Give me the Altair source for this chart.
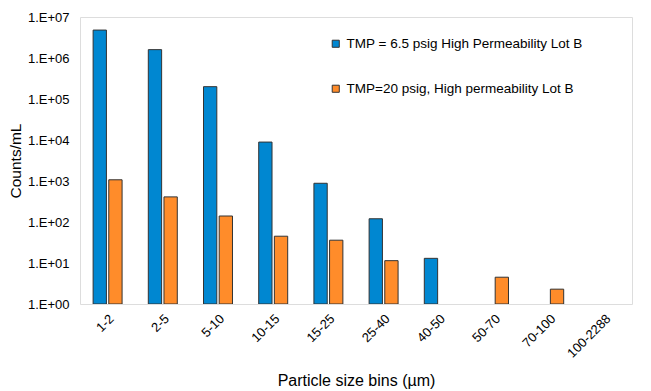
import altair as alt
import pandas as pd

bins = ["1-2", "2-5", "5-10", "10-15", "15-25", "25-40", "40-50", "50-70", "70-100", "100-2288"]
series_a = "TMP = 6.5 psig High Permeability Lot B"
series_b = "TMP=20 psig, High permeability Lot B"
values_a = [4.8e6, 1.6e6, 2.0e5, 8.9e3, 8.8e2, 1.2e2, 13, None, None, None]
values_b = [1.07e3, 4.1e2, 1.4e2, 45, 36, 11.4, None, 4.5, 2.3, None]
y_ticks = [1, 10, 100, 1e3, 1e4, 1e5, 1e6, 1e7]

rows = []
for b, va, vb in zip(bins, values_a, values_b):
    if va is not None:
        rows.append({"bin": b, "series": series_a, "value": va})
    if vb is not None:
        rows.append({"bin": b, "series": series_b, "value": vb})
df = pd.DataFrame(rows)

font = "Liberation Sans"

chart = alt.Chart(df).mark_bar(stroke="#333333", strokeWidth=1, clip=True).encode(
    x=alt.X("bin:N", sort=bins,
            scale=alt.Scale(domain=bins, paddingInner=0.475, paddingOuter=0.2375),
            axis=alt.Axis(title="Particle size bins (\u00b5m)", labelAngle=-45, ticks=False,
                          domain=False, labelPadding=8, labelFontSize=13, titleFontSize=16,
                          titlePadding=12, titleFontWeight="normal", labelColor="#000",
                          titleColor="#000")),
    xOffset=alt.XOffset("series:N", sort=[series_a, series_b],
                        scale=alt.Scale(domain=[series_a, series_b], paddingInner=0.15, paddingOuter=0)),
    y=alt.Y("value:Q",
            scale=alt.Scale(type="log", domain=[1, 1e7], nice=False),
            axis=alt.Axis(title="Counts/mL", values=y_ticks, ticks=False, domain=False, grid=False,
                          labelExpr="'1.E+0' + format(round(log(datum.value)/log(10)), 'd')",
                          labelPadding=11, labelFontSize=13, titleFontSize=15.5, titlePadding=4,
                          titleFontWeight="normal", labelColor="#000", titleColor="#000")),
    y2=alt.datum(1),
    color=alt.Color("series:N", sort=[series_a, series_b],
                    scale=alt.Scale(domain=[series_a, series_b], range=["#0087D1", "#FF8C2A"]),
                    legend=alt.Legend(title=None, orient="none", legendX=249, legendY=20,
                                      symbolType="square", symbolSize=50, symbolStrokeColor="#333333",
                                      symbolStrokeWidth=1, labelFontSize=13.5, labelColor="#000",
                                      rowPadding=30, labelOffset=4, labelLimit=400)),
).properties(
    width=552, height=287, padding={"left": 0, "top": 3, "right": 5, "bottom": 0}
).configure_view(
    stroke="#222222", strokeWidth=1
).configure(font=font).configure_axis(labelFont=font, titleFont=font).configure_legend(labelFont=font)

chart.save("out.html", embed_options={"renderer": "svg", "actions": False})
